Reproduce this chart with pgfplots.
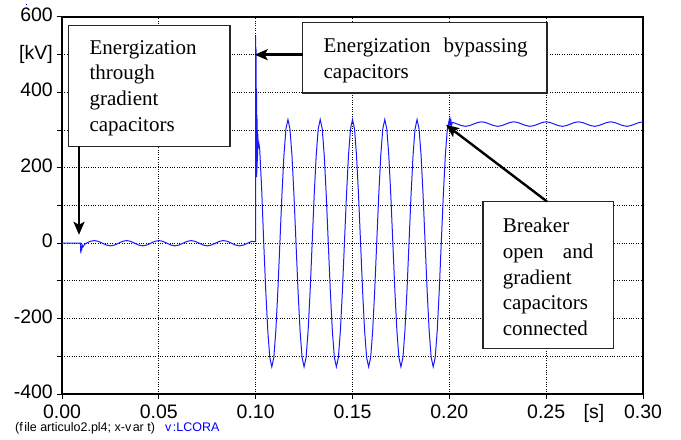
\documentclass[border=0pt]{standalone}
\usepackage{pgfplots}
\pgfplotsset{compat=1.18}
\usepackage{pgfplotstable}
\usepackage{fontspec}
\setmainfont{Liberation Serif}
\newfontfamily\arialfont{Liberation Sans}
\usetikzlibrary{arrows.meta}

% Voltage at node LCORA [kV] versus time [s]
\pgfplotstableread{
t v
0.00000 0
0.00960 0
0.00970 -27
0.00990 -8
0.01010 -20
0.01040 -5
0.01080 -10
0.01150 -4
0.01250 0
0.01458 4.9
0.01667 7
0.01875 4.9
0.02083 0
0.02292 -4.9
0.02500 -7
0.02708 -4.9
0.02917 0
0.03125 4.9
0.03333 7
0.03542 4.9
0.03750 0
0.03958 -4.9
0.04167 -7
0.04375 -4.9
0.04583 0
0.04792 4.9
0.05000 7
0.05208 4.9
0.05417 0
0.05625 -4.9
0.05833 -7
0.06042 -4.9
0.06250 0
0.06458 4.9
0.06667 7
0.06875 4.9
0.07083 0
0.07292 -4.9
0.07500 -7
0.07708 -4.9
0.07917 0
0.08125 4.9
0.08333 7
0.08542 4.9
0.08750 0
0.08958 -4.9
0.09167 -7
0.09375 -4.9
0.09583 0
0.09792 4.9
0.10000 4
0.10003 550
0.10010 260
0.10017 520
0.10024 200
0.10031 410
0.10038 190
0.10045 405
0.10052 175
0.10059 340
0.10066 185
0.10073 330
0.10080 200
0.10090 300
0.10100 230
0.10115 290
0.10130 250
0.10150 270
0.10208 250
0.10313 140
0.10417 0
0.10521 -126
0.10625 -232
0.10729 -303
0.10833 -328
0.10938 -303
0.11042 -232
0.11146 -126
0.11250 0
0.11354 126
0.11458 232
0.11563 303
0.11667 328
0.11771 303
0.11875 232
0.11979 126
0.12083 0
0.12188 -126
0.12292 -232
0.12396 -303
0.12500 -328
0.12604 -303
0.12708 -232
0.12813 -126
0.12917 0
0.13021 126
0.13125 232
0.13229 303
0.13333 328
0.13438 303
0.13542 232
0.13646 126
0.13750 0
0.13854 -126
0.13958 -232
0.14063 -303
0.14167 -328
0.14271 -303
0.14375 -232
0.14479 -126
0.14583 0
0.14688 126
0.14792 232
0.14896 303
0.15000 328
0.15104 303
0.15208 232
0.15313 126
0.15417 0
0.15521 -126
0.15625 -232
0.15729 -303
0.15833 -328
0.15938 -303
0.16042 -232
0.16146 -126
0.16250 0
0.16354 126
0.16458 232
0.16563 303
0.16667 328
0.16771 303
0.16875 232
0.16979 126
0.17083 0
0.17188 -126
0.17292 -232
0.17396 -303
0.17500 -328
0.17604 -303
0.17708 -232
0.17813 -126
0.17917 0
0.18021 126
0.18125 232
0.18229 303
0.18333 328
0.18438 303
0.18542 232
0.18646 126
0.18750 0
0.18854 -126
0.18958 -232
0.19063 -303
0.19167 -328
0.19271 -303
0.19375 -232
0.19479 -126
0.19583 0
0.19688 126
0.19792 232
0.19896 303
0.20000 328
0.20020 312
0.20040 330
0.20060 312
0.20080 326
0.20120 314
0.20160 320
0.20208 320
0.20417 316
0.20625 312
0.20833 310
0.21042 312
0.21250 316
0.21458 320
0.21667 322
0.21875 320
0.22083 316
0.22292 312
0.22500 310
0.22708 312
0.22917 316
0.23125 320
0.23333 322
0.23542 320
0.23750 316
0.23958 312
0.24167 310
0.24375 312
0.24583 316
0.24792 320
0.25000 322
0.25208 320
0.25417 316
0.25625 312
0.25833 310
0.26042 312
0.26250 316
0.26458 320
0.26667 322
0.26875 320
0.27083 316
0.27292 312
0.27500 310
0.27708 312
0.27917 316
0.28125 320
0.28333 322
0.28542 320
0.28750 316
0.28958 312
0.29167 310
0.29375 312
0.29583 316
0.29792 320
0.30000 322
}\voltage

\definecolor{trace}{RGB}{25,25,255}

\begin{document}
\begin{tikzpicture}
\path[use as bounding box] (-62bp,-46bp) rectangle (619bp,394bp);
\begin{axis}[
  at={(0,0)}, anchor=south west, scale only axis,
  width=581bp, height=377bp,
  xmin=0, xmax=0.3, ymin=-400, ymax=600,
  xtick={0,0.05,0.1,0.15,0.2,0.25,0.3},
  xticklabels={0.00,0.05,0.10,0.15,0.20,0.25,0.30},
  ytick={-400,-300,-200,-100,0,100,200,300,400,500,600},
  yticklabels={-400,,-200,,0,,200,,400,{[kV]},600},
  extra x ticks={0.2747},
  extra x tick labels={{[s]}},
  extra x tick style={grid=none, major tick length=0pt,
    xticklabel style={yshift=-5bp}},
  typeset ticklabels with strut,
  tick label style={font=\arialfont\fontsize{19.5bp}{23bp}\selectfont},
  xticklabel style={inner sep=3bp},
  yticklabel style={inner sep=4bp},
  xtick pos=left, ytick pos=left,
  tick align=outside, major tick length=5bp,
  tick style={black, line width=1bp},
  axis line style={black, line width=1.2bp},
  grid=major,
  major grid style={black, dotted, line width=0.9bp},
]
\addplot[trace, line width=1bp, no markers] table[x=t, y=v] {\voltage};
\end{axis}

% annotation boxes
\tikzset{callout/.style={draw=black!85, fill=white, line width=1.4bp},
         calltext/.style={anchor=north west, inner sep=0pt,
           font=\fontsize{21bp}{25.7bp}\selectfont},
         pointer/.style={line width=2.4bp, -{Stealth[length=13bp, width=11bp, inset=3bp]}}}

\draw[callout] (6.5bp,368.7bp) rectangle (168bp,247.6bp);
\node[calltext, text width=130bp, align=left] at (27.4bp,354bp)
  {Energization\\through\\gradient\\capacitors};
\draw[pointer] (17bp,247.6bp) -- (17bp,159.2bp);

\draw[callout] (240.5bp,371.7bp) rectangle (485bp,301bp);
\node[calltext, text width=204bp, align=left] at (261.4bp,355.9bp)
  {Energization\hfill bypassing\\capacitors};
\draw[pointer] (240.5bp,339.3bp) -- (192.7bp,339.3bp);

\draw[callout] (421bp,192.5bp) rectangle (551.5bp,45.7bp);
\node[calltext, text width=90.5bp, align=left] at (440.6bp,176.1bp)
  {Breaker\\open\hfill and\\gradient\\capacitors\\connected};
\draw[pointer] (485bp,192.5bp) -- (384bp,269.2bp);

% footer
\node[anchor=base west, inner sep=0pt, font=\arialfont\fontsize{12.5bp}{14bp}\selectfont]
  at (-47bp,-37.7bp) {(f\kern1.5bp ile articulo2.pl4; x-v\kern1.5bp ar t)};
\node[anchor=base west, inner sep=0pt, text=blue, font=\arialfont\fontsize{12.5bp}{14bp}\selectfont]
  at (103bp,-37.7bp) {v\kern1.5bp:LCORA};
\fill[blue] (-36bp,390.2bp) rectangle (-34.6bp,389.2bp);
\end{tikzpicture}
\end{document}
